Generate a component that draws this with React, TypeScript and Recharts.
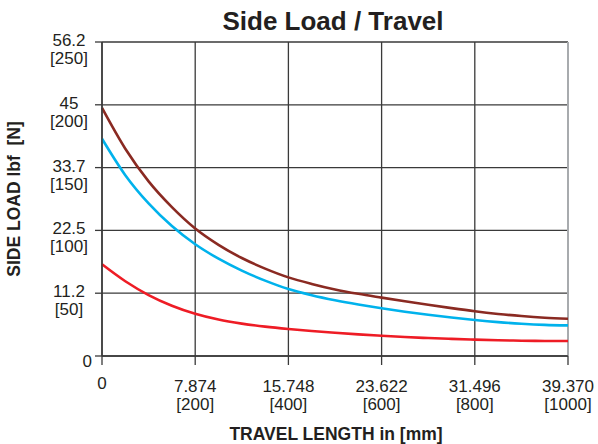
import { LineChart, Line, XAxis, YAxis, CartesianGrid, ReferenceLine } from "recharts";

// travel in mm, side load in N
const travelMm = [0, 50, 100, 150, 200, 250, 300, 350, 400, 450, 500, 550, 600, 650, 700, 750, 800, 850, 900, 950, 1000];
const brownLoad = [197.5, 165, 139, 118.5, 101.5, 88.5, 78, 69.6, 62.6, 57.4, 53, 49.5, 46.5, 43.6, 40.8, 38.1, 35.6, 33.5, 31.8, 30.5, 29.7];
const blueLoad = [173, 144, 121.5, 103.5, 89, 77.5, 68, 60, 53.3, 48.4, 44.4, 41, 38, 35.3, 32.9, 30.7, 28.7, 27, 25.7, 24.8, 24.4];
const redLoad = [73, 59.5, 48.5, 40, 33.6, 29, 25.8, 23.4, 21.5, 19.9, 18.5, 17.2, 16.1, 15.1, 14.3, 13.6, 13, 12.5, 12.2, 12, 11.9];

const mmTicks = [0, 200, 400, 600, 800, 1000];
const inchLabels = ["0", "7.874", "15.748", "23.622", "31.496", "39.370"];
const newtonTicks = [0, 50, 100, 150, 200, 250];
const lbfLabels = ["0", "11.2", "22.5", "33.7", "45", "56.2"];

const data = travelMm.map((t, i) => ({
  t,
  brown: brownLoad[i],
  blue: blueLoad[i],
  red: redLoad[i],
}));

const FONT = "'Liberation Sans', Arial, sans-serif";
const INK = "#231f20";

function XTick(props: any) {
  const { x, y, payload } = props;
  const i = mmTicks.indexOf(payload.value);
  if (i === 0) {
    return (
      <text x={x} y={y + 22} textAnchor="middle" fontSize={17} fill={INK} fontFamily={FONT}>
        {inchLabels[i]}
      </text>
    );
  }
  return (
    <g>
      <text x={x} y={y + 25} textAnchor="middle" fontSize={17} fill={INK} fontFamily={FONT}>
        {inchLabels[i]}
      </text>
      <text x={x} y={y + 43} textAnchor="middle" fontSize={17} fill={INK} fontFamily={FONT}>
        [{payload.value}]
      </text>
    </g>
  );
}

function YTick(props: any) {
  const { x, y, payload } = props;
  const i = newtonTicks.indexOf(payload.value);
  if (i === 0) {
    return (
      <text x={x - 1} y={y + 11} textAnchor="end" fontSize={17} fill={INK} fontFamily={FONT}>
        {lbfLabels[i]}
      </text>
    );
  }
  return (
    <g>
      <text x={x - 24} y={y + 4} textAnchor="middle" fontSize={17} fill={INK} fontFamily={FONT}>
        {lbfLabels[i]}
      </text>
      <text x={x - 24} y={y + 22} textAnchor="middle" fontSize={17} fill={INK} fontFamily={FONT}>
        [{payload.value}]
      </text>
    </g>
  );
}

export default function App() {
  return (
    <div style={{ position: "absolute", left: 0, top: 0, width: 598, height: 444, background: "#fff" }}>
      <LineChart
        width={598}
        height={444}
        data={data}
        margin={{ top: 42, right: 30, bottom: 0, left: 0 }}
      >
        <CartesianGrid stroke="#3a3a3a" strokeWidth={1.3} />
        <XAxis
          dataKey="t"
          type="number"
          domain={[0, 1000]}
          ticks={mmTicks}
          height={88}
          tickSize={9}
          tick={<XTick />}
          axisLine={{ stroke: "#3a3a3a", strokeWidth: 1.5 }}
          tickLine={{ stroke: "#3a3a3a", strokeWidth: 1.3 }}
        />
        <YAxis
          type="number"
          domain={[0, 250]}
          ticks={newtonTicks}
          width={102}
          tickSize={7}
          tick={<YTick />}
          axisLine={{ stroke: "#3a3a3a", strokeWidth: 1.5 }}
          tickLine={{ stroke: "#3a3a3a", strokeWidth: 1.3 }}
        />
        <ReferenceLine x={1000} stroke="#a8abae" strokeWidth={2} />
        <Line type="monotone" dataKey="brown" stroke="#8a2a22" strokeWidth={2.6} dot={false} isAnimationActive={false} />
        <Line type="monotone" dataKey="blue" stroke="#00b2ec" strokeWidth={2.6} dot={false} isAnimationActive={false} />
        <Line type="monotone" dataKey="red" stroke="#ee1c25" strokeWidth={2.6} dot={false} isAnimationActive={false} />
      </LineChart>
      <svg
        width={598}
        height={444}
        style={{ position: "absolute", left: 0, top: 0, pointerEvents: "none" }}
      >
        <text x={333} y={30} textAnchor="middle" fontSize={26} fontWeight="bold" fill={INK} fontFamily={FONT}>
          Side Load / Travel
        </text>
        <text x={336} y={440} textAnchor="middle" fontSize={17.5} fontWeight="bold" fill={INK} fontFamily={FONT}>
          TRAVEL LENGTH in [mm]
        </text>
        <text
          x={20}
          y={199}
          textAnchor="middle"
          fontSize={17.5}
          fontWeight="bold"
          fill={INK}
          fontFamily={FONT}
          transform="rotate(-90 20 199)"
          style={{ whiteSpace: "pre" }}
        >
          SIDE LOAD lbf  [N]
        </text>
      </svg>
    </div>
  );
}
